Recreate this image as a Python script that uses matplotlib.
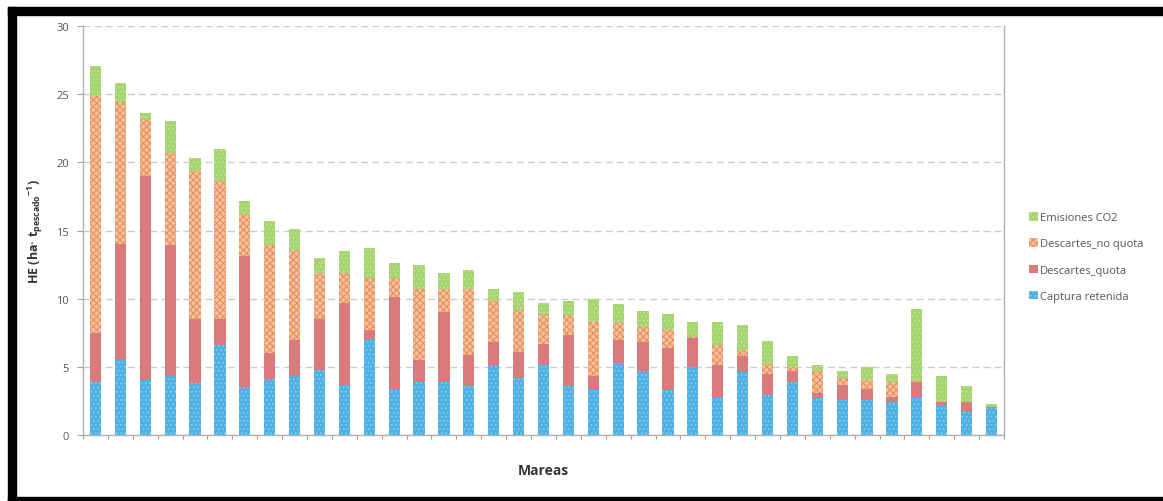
import numpy as np
import matplotlib
matplotlib.use("Agg")
import matplotlib.pyplot as plt
from matplotlib.patches import Rectangle

plt.rcParams['font.family'] = ['Open Sans', 'DejaVu Sans']
plt.rcParams['hatch.linewidth'] = 0.8

# ------------------------------------------------------------------
#  Huella ecologica por marea (ha / t pescado), componentes apiladas
# ------------------------------------------------------------------
captura_retenida = [3.9, 5.5, 4.0, 4.3, 3.8, 6.6, 3.5, 4.1, 4.3, 4.8,
                    3.7, 7.0, 3.4, 3.9, 3.9, 3.6, 5.1, 4.2, 5.1, 3.6,
                    3.4, 5.3, 4.7, 3.3, 5.0, 2.8, 4.6, 2.9, 3.9, 2.7,
                    2.6, 2.6, 2.4, 2.8, 2.2, 1.7, 2.0]
descartes_quota = [3.6, 8.5, 15.0, 9.6, 4.7, 1.9, 9.6, 1.9, 2.7, 3.7,
                   6.0, 0.7, 6.7, 1.6, 5.1, 2.3, 1.7, 1.9, 1.6, 3.7,
                   0.9, 1.7, 2.1, 3.1, 2.1, 2.3, 1.2, 1.6, 0.8, 0.4,
                   1.1, 0.8, 0.4, 1.1, 0.2, 0.7, 0.05]
descartes_no_quota = [17.4, 10.4, 4.1, 6.8, 10.9, 10.1, 3.1, 7.9, 6.6, 3.4,
                      2.2, 3.8, 1.4, 5.2, 1.7, 4.8, 3.0, 3.1, 2.2, 1.5,
                      4.0, 1.2, 1.1, 1.3, 0.1, 1.5, 0.4, 0.7, 0.3, 1.6,
                      0.5, 0.6, 1.1, 0.05, 0.0, 0.0, 0.0]
emisiones_co2 = [2.2, 1.4, 0.5, 2.3, 0.9, 2.4, 1.0, 1.8, 1.5, 1.1,
                 1.6, 2.2, 1.1, 1.8, 1.2, 1.4, 0.9, 1.3, 0.8, 1.0,
                 1.7, 1.4, 1.2, 1.2, 1.1, 1.7, 1.9, 1.7, 0.8, 0.4,
                 0.5, 1.0, 0.6, 5.3, 1.9, 1.2, 0.2]

series = [
    ("Captura retenida", captura_retenida, "#4db2e2", "#86cdef", "...."),
    ("Descartes_quota", descartes_quota, "#d97b7d", "#d97b7d", None),
    ("Descartes_no quota", descartes_no_quota, "#f4c2a0", "#e98f58", "xxxxx"),
    ("Emisiones CO2", emisiones_co2, "#a5d56e", "#bfe295", "...."),
]

W, H = 1163, 502
fig = plt.figure(figsize=(W / 100, H / 100), dpi=100, facecolor="white")
ax = fig.add_axes([83 / W, (H - 436) / H, 921 / W, 409 / H])

x = np.arange(len(captura_retenida))
bottom = np.zeros(len(x))
handles = []
for name, vals, face, hcol, hatch in series:
    vals = np.asarray(vals)
    b = ax.bar(x, vals, width=0.45, bottom=bottom, color=face,
               edgecolor=hcol, linewidth=0, hatch=hatch, label=name, zorder=3)
    handles.append(b)
    bottom = bottom + vals

ax.set_xlim(-0.5, len(x) - 0.5)
ax.set_ylim(0, 30)
ax.set_yticks(range(0, 31, 5))
ax.set_xticks(np.arange(-0.5, len(x), 1.0))
ax.set_xticklabels([])
ax.tick_params(axis="x", length=3, color="#a0a0a0", direction="out")
ax.tick_params(axis="y", length=4, color="#a0a0a0", direction="out",
               labelsize=8, labelcolor="#555555", pad=6)

ax.grid(axis="y", color="#cccccc", linestyle=(0, (5, 3)), linewidth=1.0, zorder=0)
ax.spines["top"].set_visible(False)
for side in ("left", "right", "bottom"):
    ax.spines[side].set_color("#b0b0b0")
    ax.spines[side].set_linewidth(1.0)

ax.set_xlabel("Mareas", fontsize=10, fontweight="bold", color="#333333", labelpad=14)
ax.set_ylabel(r"HE (ha$\cdot$ t$_{\mathregular{pescado}}$$^{\mathregular{-1}}$)",
              fontsize=9, fontweight="bold", color="#333333", labelpad=8)

leg = fig.legend(handles[::-1], [s[0] for s in series][::-1],
                 loc="center left", bbox_to_anchor=(1019 / W, (H - 258) / H),
                 frameon=False, fontsize=8, handlelength=0.8, handleheight=0.8,
                 handletextpad=0.2, labelspacing=1.35, labelcolor="#555555")

# marco negro alrededor de la figura
frame = dict(transform=fig.transFigure, color="black", zorder=10, clip_on=False)
fig.patches.append(Rectangle((8 / W, 0), 8 / W, (H - 8) / H, **frame))
fig.patches.append(Rectangle((8 / W, (H - 16) / H), 1 - 8 / W, 8 / H, **frame))
fig.patches.append(Rectangle((8 / W, 0), 1 - 8 / W, 4 / H, **frame))

fig.savefig("out.png", dpi=100, facecolor="white")
